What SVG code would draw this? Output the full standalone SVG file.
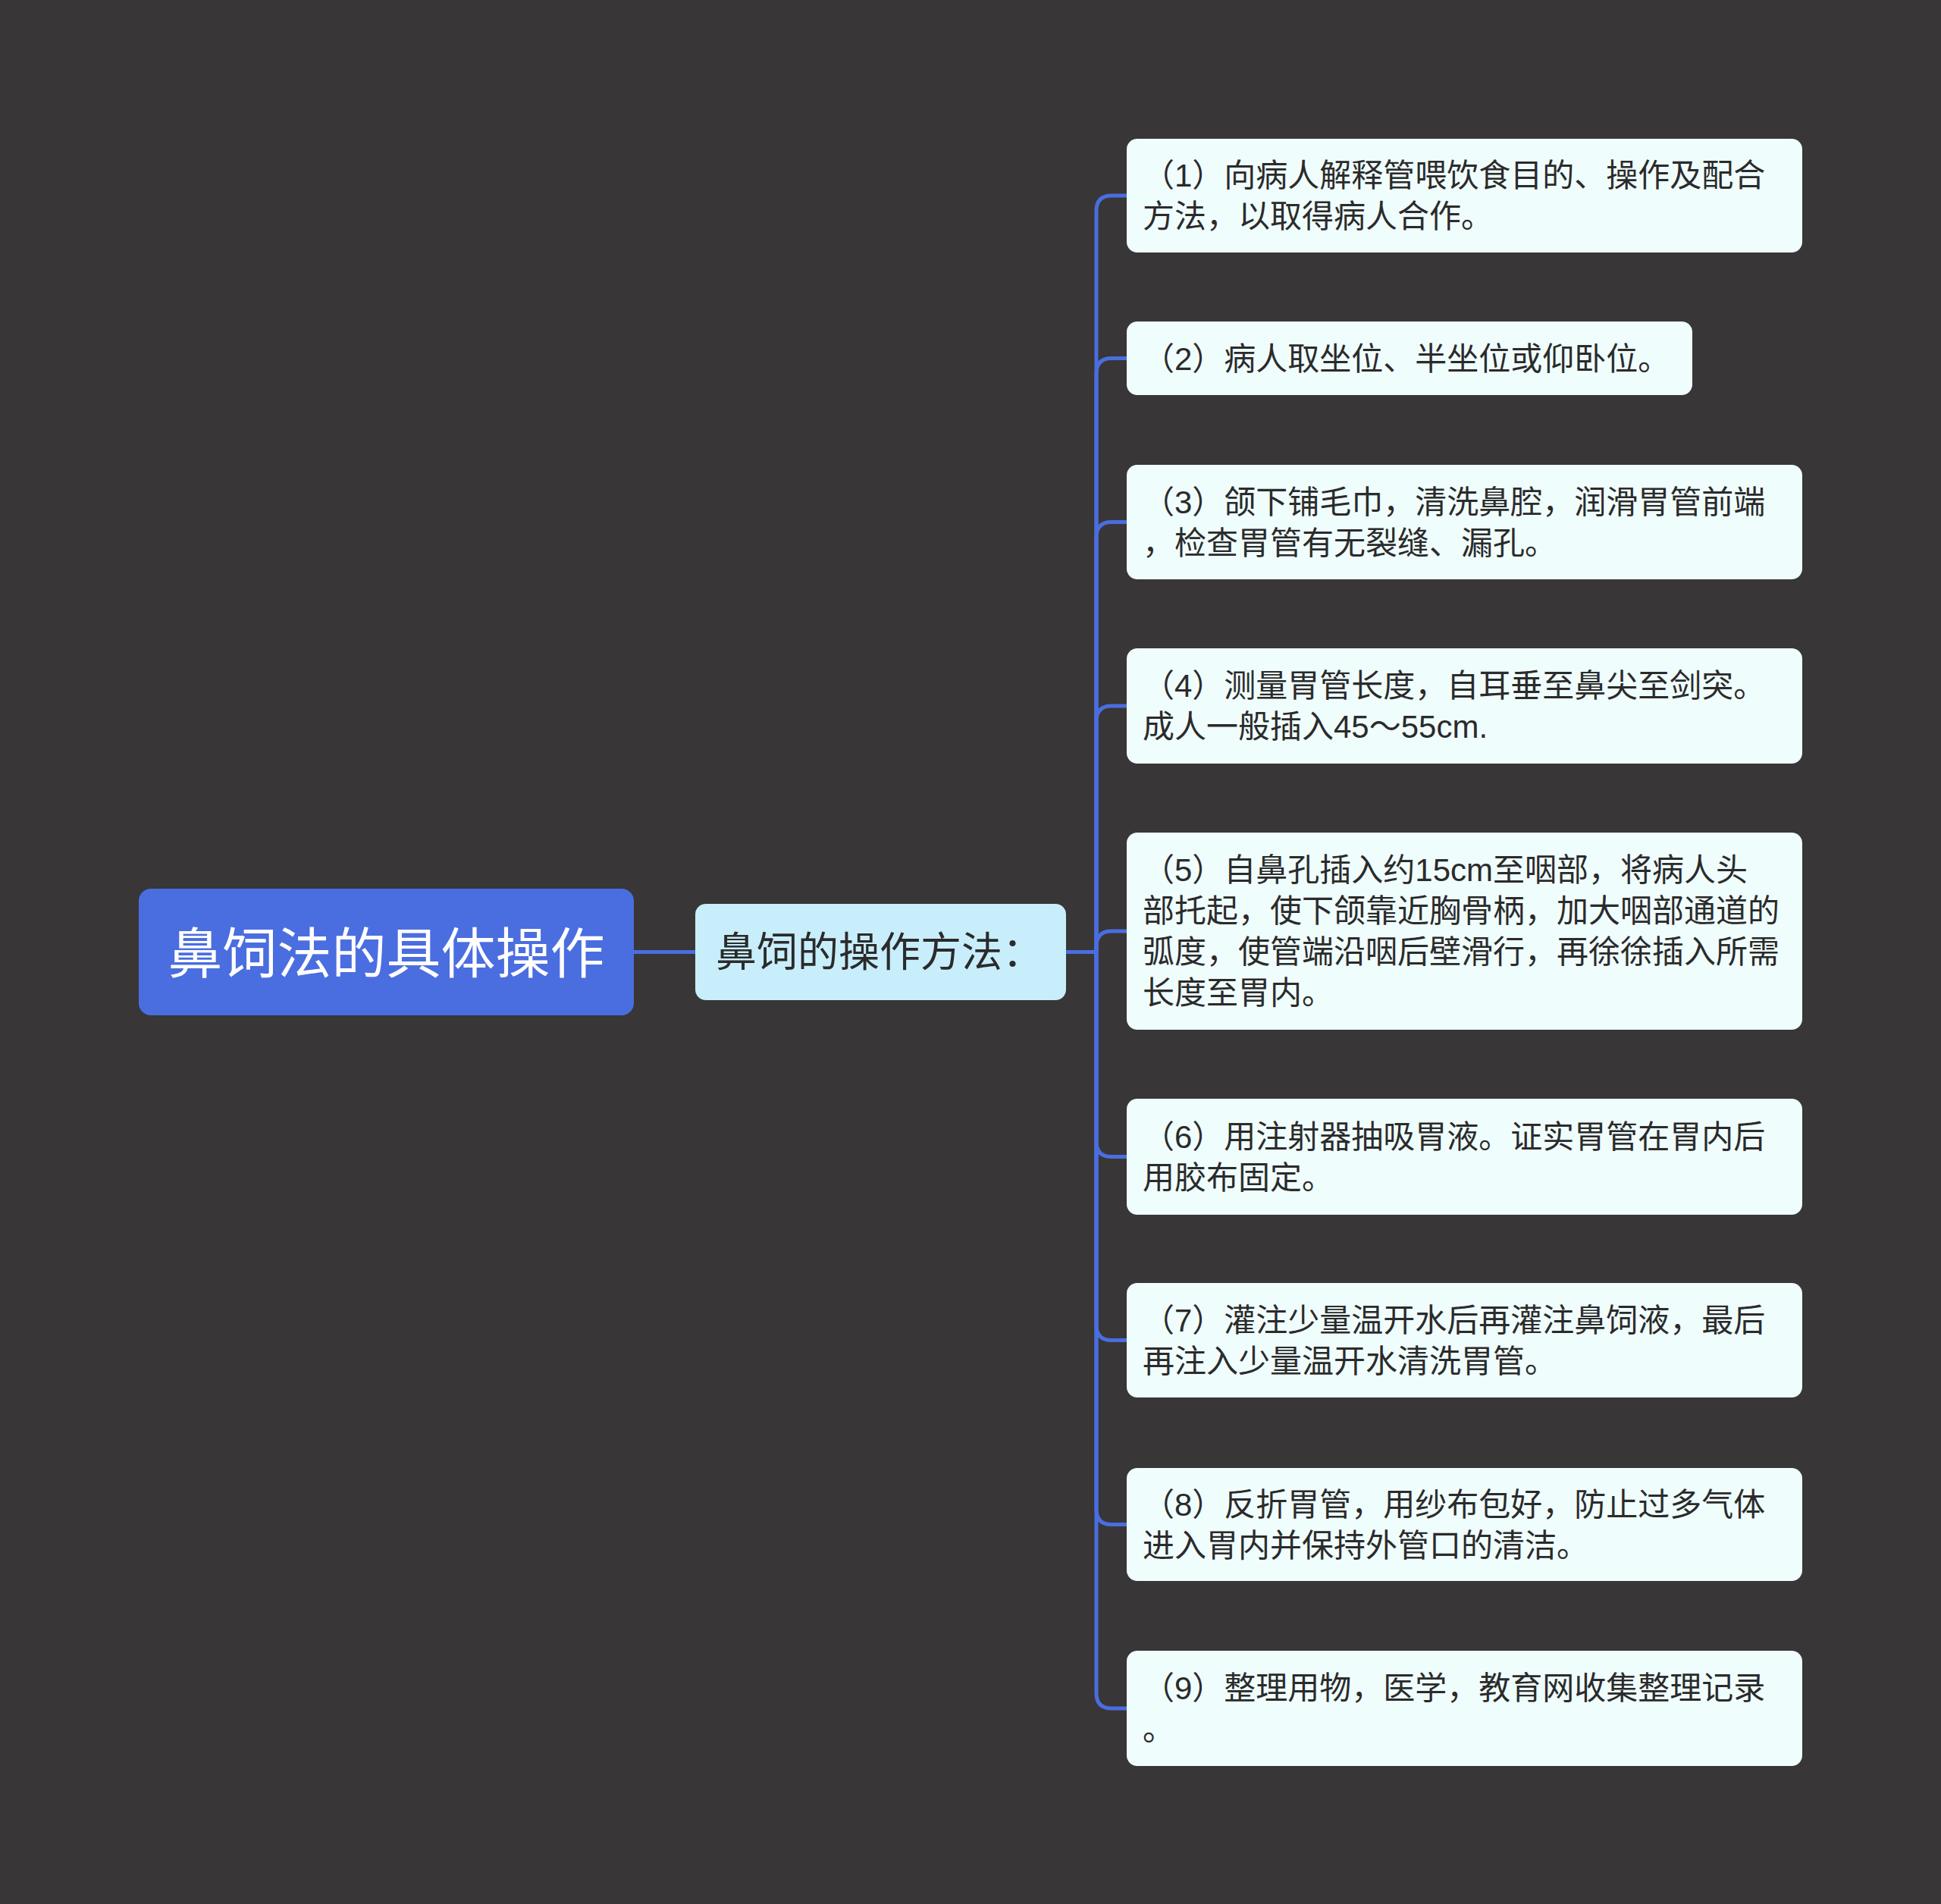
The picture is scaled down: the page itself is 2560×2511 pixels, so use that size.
<svg xmlns="http://www.w3.org/2000/svg" width="2560" height="2511" viewBox="0 0 2560 2511">
<style>
.conn{fill:none;stroke:#4a6ee0;stroke-width:5;stroke-linecap:round;stroke-linejoin:round}
.leaf rect{fill:#f0fdfd}
.leaf text{font-family:"Liberation Sans","Noto Sans CJK SC",sans-serif;font-size:42px;fill:#2b2b2b}
.root text{font-family:"Noto Sans CJK SC","Noto Sans",sans-serif;font-size:72px;fill:#ffffff}
.mid text{font-family:"Noto Sans CJK SC","Noto Sans",sans-serif;font-size:54px;fill:#2b2b2b}
</style>
<rect x="0" y="0" width="2560" height="2511" fill="#383637"/>
<g id="connectors">
<path class="conn" d="M836 1255.5 H917"/>
<path class="conn" d="M1406 1255.5 H1446 V278 Q1446 258 1466 258 H1486"/>
<path class="conn" d="M1406 1255.5 H1446 V492.5 Q1446 472.5 1466 472.5 H1486"/>
<path class="conn" d="M1406 1255.5 H1446 V708.5 Q1446 688.5 1466 688.5 H1486"/>
<path class="conn" d="M1406 1255.5 H1446 V951 Q1446 931 1466 931 H1486"/>
<path class="conn" d="M1406 1255.5 H1446 V1248 Q1446 1228 1466 1228 H1486"/>
<path class="conn" d="M1406 1255.5 H1446 V1505.5 Q1446 1525.5 1466 1525.5 H1486"/>
<path class="conn" d="M1406 1255.5 H1446 V1747.5 Q1446 1767.5 1466 1767.5 H1486"/>
<path class="conn" d="M1406 1255.5 H1446 V1990.5 Q1446 2010.5 1466 2010.5 H1486"/>
<path class="conn" d="M1406 1255.5 H1446 V2233 Q1446 2253 1466 2253 H1486"/>
</g>
<g id="root" class="root">
<rect x="183" y="1172" width="653" height="167" rx="16" fill="#4a6ee0"/>
<text x="509.5" y="1283" text-anchor="middle">鼻饲法的具体操作</text>
</g>
<g id="mid" class="mid">
<rect x="917" y="1192" width="489" height="127" rx="14" fill="#c8eefc"/>
<text x="944" y="1275">鼻饲的操作方法：</text>
</g>
<g id="leaf1" class="leaf">
<rect x="1486" y="183" width="891" height="150" rx="14"/>
<text x="1507" y="246">（1）向病人解释管喂饮食目的、操作及配合<tspan x="1507" dy="54">方法，以取得病人合作。</tspan></text>
</g>
<g id="leaf2" class="leaf">
<rect x="1486" y="424" width="746" height="97" rx="14"/>
<text x="1507" y="488">（2）病人取坐位、半坐位或仰卧位。</text>
</g>
<g id="leaf3" class="leaf">
<rect x="1486" y="613" width="891" height="151" rx="14"/>
<text x="1507" y="677">（3）颌下铺毛巾，清洗鼻腔，润滑胃管前端<tspan x="1507" dy="54">，检查胃管有无裂缝、漏孔。</tspan></text>
</g>
<g id="leaf4" class="leaf">
<rect x="1486" y="855" width="891" height="152" rx="14"/>
<text x="1507" y="919">（4）测量胃管长度，自耳垂至鼻尖至剑突。<tspan x="1507" dy="54">成人一般插入45～55cm.</tspan></text>
</g>
<g id="leaf5" class="leaf">
<rect x="1486" y="1098" width="891" height="260" rx="14"/>
<text x="1507" y="1162">（5）自鼻孔插入约15cm至咽部，将病人头<tspan x="1507" dy="54">部托起，使下颌靠近胸骨柄，加大咽部通道的</tspan><tspan x="1507" dy="54">弧度，使管端沿咽后壁滑行，再徐徐插入所需</tspan><tspan x="1507" dy="54">长度至胃内。</tspan></text>
</g>
<g id="leaf6" class="leaf">
<rect x="1486" y="1449" width="891" height="153" rx="14"/>
<text x="1507" y="1514">（6）用注射器抽吸胃液。证实胃管在胃内后<tspan x="1507" dy="54">用胶布固定。</tspan></text>
</g>
<g id="leaf7" class="leaf">
<rect x="1486" y="1692" width="891" height="151" rx="14"/>
<text x="1507" y="1756">（7）灌注少量温开水后再灌注鼻饲液，最后<tspan x="1507" dy="54">再注入少量温开水清洗胃管。</tspan></text>
</g>
<g id="leaf8" class="leaf">
<rect x="1486" y="1936" width="891" height="149" rx="14"/>
<text x="1507" y="1999">（8）反折胃管，用纱布包好，防止过多气体<tspan x="1507" dy="54">进入胃内并保持外管口的清洁。</tspan></text>
</g>
<g id="leaf9" class="leaf">
<rect x="1486" y="2177" width="891" height="152" rx="14"/>
<text x="1507" y="2241">（9）整理用物，医学，教育网收集整理记录<tspan x="1507" dy="54">。</tspan></text>
</g>
</svg>
